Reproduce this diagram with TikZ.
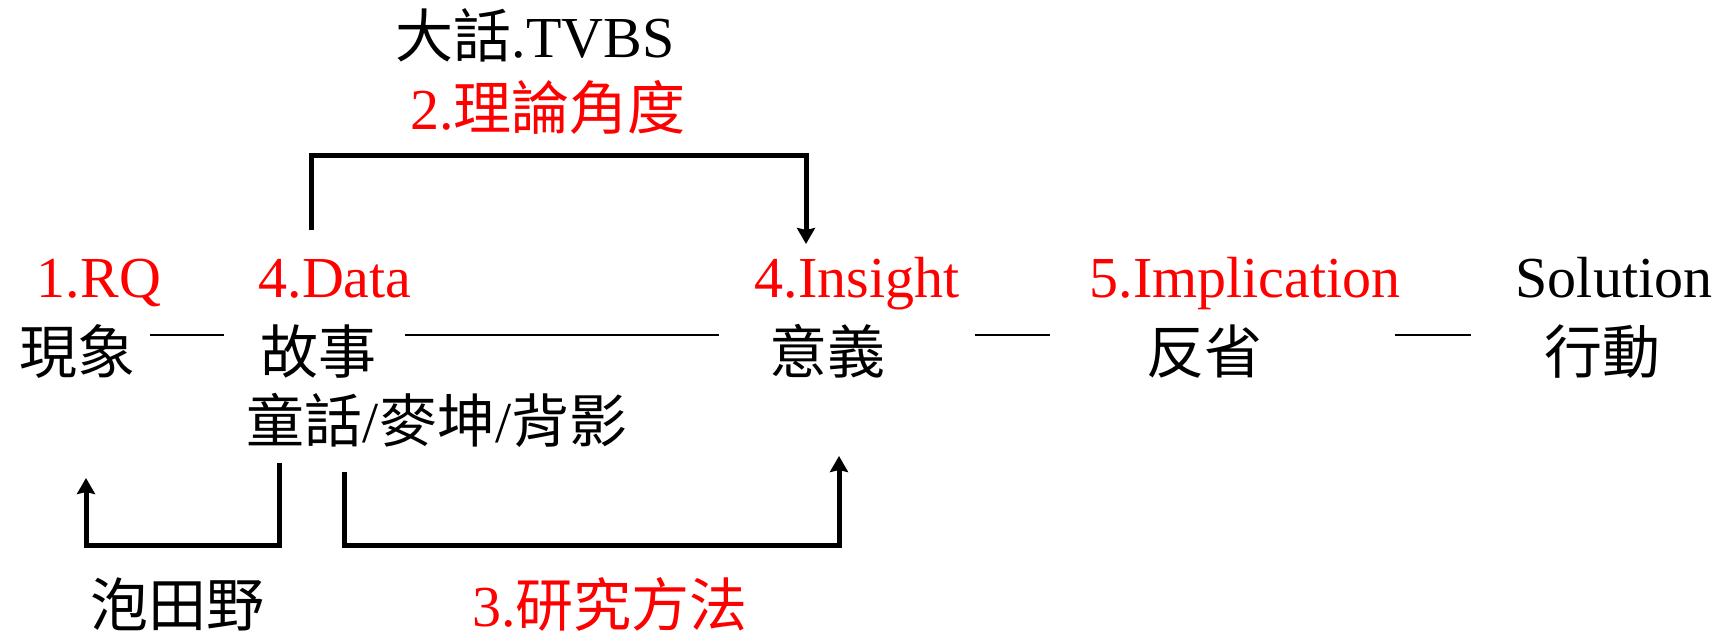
\documentclass[tikz,border=0pt]{standalone}
\usepackage{fontspec}
\setmainfont{Liberation Serif}
\newfontfamily\cjk{Noto Sans CJK TC}
\usetikzlibrary{arrows.meta}
\definecolor{myred}{RGB}{255,0,0}
\begin{document}
\begin{tikzpicture}[x=0.5pt,y=-0.5pt,
  lbl/.style={inner sep=0pt,anchor=base,font=\fontsize{29pt}{34pt}\selectfont},
  redlbl/.style={lbl,text=myred},
  cjklbl/.style={lbl,font=\cjk\fontsize{29pt}{34pt}\selectfont},
  dashline/.style={line width=1pt},
  brk/.style={line width=2.5pt},
  arr/.style={brk,-{Stealth[length=8pt,width=9pt,inset=1pt]}}]
\useasboundingbox (0,0) rectangle (1724,637);
% top texts
\node[lbl] (tvbs) at (535,57) {{\cjk 大話}.TVBS};
\node[redlbl] (theory) at (548,129) {2.{\cjk 理論角度}};
% english row
\node[redlbl] (rq) at (99,297) {1.RQ};
\node[redlbl] (data) at (335,297) {4.Data};
\node[redlbl] (insight) at (857,297) {4.Insight};
\node[redlbl] (impl) at (1245,297) {5.Implication};
\node[lbl] (sol) at (1614,297) {Solution};
% chinese row
\node[cjklbl] (xian) at (77,373) {現象};
\node[cjklbl] (gushi) at (318,373) {故事};
\node[cjklbl] (yiyi) at (827,373) {意義};
\node[cjklbl] (fanxing) at (1204,373) {反省};
\node[cjklbl] (xingdong) at (1602,373) {行動};
\node[lbl] (tonghua) at (437,442) {{\cjk 童話}/{\cjk 麥坤}/{\cjk 背影}};
% bottom texts
\node[cjklbl] (paotian) at (177,626) {泡田野};
\node[redlbl] (method) at (610,626) {3.{\cjk 研究方法}};
% dashes
\coordinate (d1a) at (150,335); \coordinate (d1b) at (224,335);
\coordinate (d2a) at (405,335); \coordinate (d2b) at (719,335);
\coordinate (d3a) at (975,335); \coordinate (d3b) at (1050,335);
\coordinate (d4a) at (1395,335); \coordinate (d4b) at (1471,335);
\draw[dashline] (d1a) -- (d1b);
\draw[dashline] (d2a) -- (d2b);
\draw[dashline] (d3a) -- (d3b);
\draw[dashline] (d4a) -- (d4b);
% top bracket: Data -> Insight
\coordinate (a1) at (311,230);
\coordinate (a2) at (806,244);
\draw[arr] (a1) |- (806,155.5) -- (a2);
% bottom left bracket: story -> phenomenon
\coordinate (b1) at (279,463);
\coordinate (b2) at (86,478);
\draw[arr] (b1) |- (86,545) -- (b2);
% bottom right bracket: story -> meaning
\coordinate (c1) at (344,472);
\coordinate (c2) at (839,456);
\draw[arr] (c1) |- (839,545) -- (c2);
\end{tikzpicture}
\end{document}
